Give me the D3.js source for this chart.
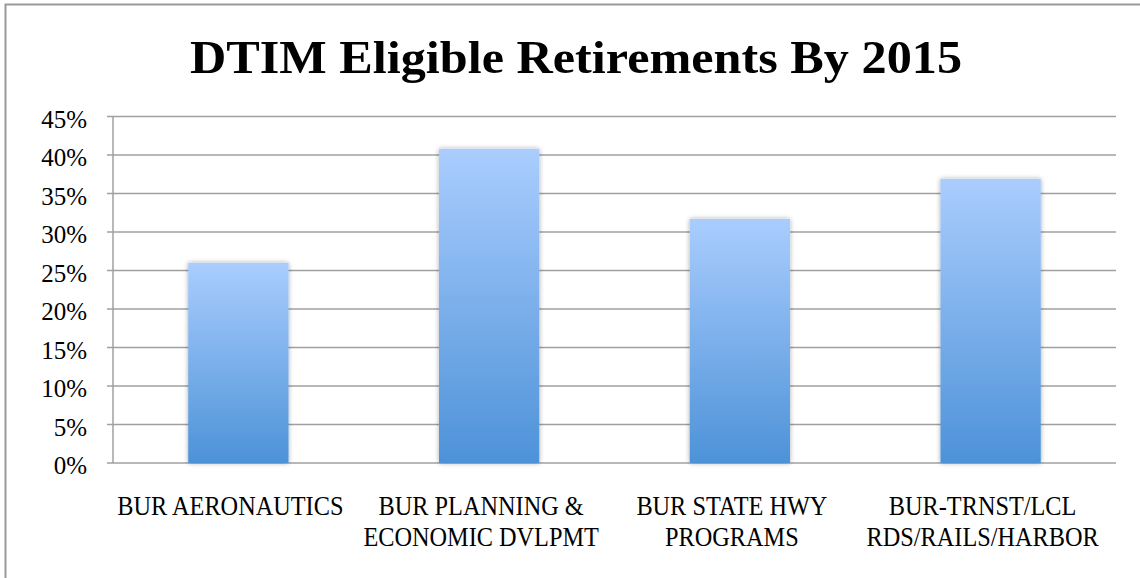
<!DOCTYPE html>
<html>
<head>
<meta charset="utf-8">
<script src="https://cdn.jsdelivr.net/npm/d3@7"></script>
<style>
  body { margin: 0; background: #fff; }
  svg { display: block; }
  text { font-family: "Liberation Serif", "DejaVu Serif", serif; fill: #000; }
</style>
</head>
<body>
<div id="chart"></div>
<script>
// chart data
const categories = [
    ["BUR AERONAUTICS"],
    ["BUR PLANNING &", "ECONOMIC DVLPMT"],
    ["BUR STATE HWY", "PROGRAMS"],
    ["BUR-TRNST/LCL", "RDS/RAILS/HARBOR"]
];
const values = [0.26, 0.408, 0.317, 0.369];
const yTicks = [0, 0.05, 0.10, 0.15, 0.20, 0.25, 0.30, 0.35, 0.40, 0.45];
const title = "DTIM Eligible Retirements By 2015";

window.onload = () => {
    const width = 1140;
    const height = 578;
    const margin = { top: 116.5, right: 24, bottom: 115, left: 113 };

    const svg = d3.select("#chart")
        .append("svg")
        .attr("width", width)
        .attr("height", height);

    const defs = svg.append("defs");

    // bar gradient, light on top, darker at the bottom
    const grad = defs.append("linearGradient")
        .attr("id", "barGrad")
        .attr("x1", 0).attr("y1", 0)
        .attr("x2", 0).attr("y2", 1);
    grad.append("stop").attr("offset", "0%").attr("stop-color", "#aacdfe");
    grad.append("stop").attr("offset", "100%").attr("stop-color", "#4d92d8");

    const shadow = defs.append("filter")
        .attr("id", "barShadow")
        .attr("x", "-20%").attr("y", "-10%")
        .attr("width", "140%").attr("height", "120%");
    shadow.append("feGaussianBlur")
        .attr("in", "SourceAlpha")
        .attr("stdDeviation", 2.5)
        .attr("result", "blur");
    shadow.append("feComponentTransfer")
        .append("feFuncA").attr("type", "linear").attr("slope", 0.35);
    const merge = shadow.append("feMerge");
    merge.append("feMergeNode");
    merge.append("feMergeNode").attr("in", "SourceGraphic");

    // outer frame
    svg.append("rect")
        .attr("x", 5.5)
        .attr("y", 4.5)
        .attr("width", width)
        .attr("height", height)
        .attr("fill", "none")
        .attr("stroke", "#999")
        .attr("stroke-width", 2);

    const x = d3.scaleBand()
        .domain(d3.range(categories.length))
        .range([margin.left, width - margin.right])
        .paddingInner(0.6)
        .paddingOuter(0.3);

    const y = d3.scaleLinear()
        .domain([0, 0.45])
        .range([height - margin.bottom, margin.top]);

    // gridlines
    svg.append("g")
        .selectAll("line")
        .data(yTicks)
        .enter()
        .append("line")
        .attr("x1", margin.left - 6)
        .attr("x2", width - margin.right)
        .attr("y1", d => y(d))
        .attr("y2", d => y(d))
        .attr("stroke", "#a0a0a0")
        .attr("stroke-width", 1.5);

    // y axis line
    svg.append("line")
        .attr("x1", margin.left)
        .attr("x2", margin.left)
        .attr("y1", y(0.45))
        .attr("y2", y(0))
        .attr("stroke", "#a0a0a0")
        .attr("stroke-width", 1.5);

    // tick labels
    svg.append("g")
        .selectAll("text")
        .data(yTicks)
        .enter()
        .append("text")
        .attr("x", 87)
        .attr("y", d => y(d) + 11)
        .attr("text-anchor", "end")
        .attr("font-size", 25)
        .text(d => d3.format(".0%")(d));

    // bars
    svg.append("g")
        .selectAll("rect")
        .data(values)
        .enter()
        .append("rect")
        .attr("x", (d, i) => x(i))
        .attr("y", d => y(d))
        .attr("width", x.bandwidth())
        .attr("height", d => y(0) - y(d))
        .attr("fill", "url(#barGrad)")
        .attr("filter", "url(#barShadow)");

    // category labels, slightly narrowed serif
    const labels = svg.append("g")
        .selectAll("text")
        .data(categories)
        .enter()
        .append("text")
        .attr("text-anchor", "middle")
        .attr("font-size", 27)
        .attr("transform", (d, i) => `translate(${x(i) + x.bandwidth() / 2 - 8},515) scale(0.9,1)`);

    labels.selectAll("tspan")
        .data(d => d)
        .enter()
        .append("tspan")
        .attr("x", 0)
        .attr("y", (d, i) => i * 31.5)
        .text(d => d);

    svg.append("text")
        .attr("x", 576)
        .attr("y", 73)
        .attr("text-anchor", "middle")
        .attr("font-size", 46)
        .attr("font-weight", "bold")
        .attr("textLength", 772)
        .attr("lengthAdjust", "spacingAndGlyphs")
        .text(title);
};
</script>
</body>
</html>
